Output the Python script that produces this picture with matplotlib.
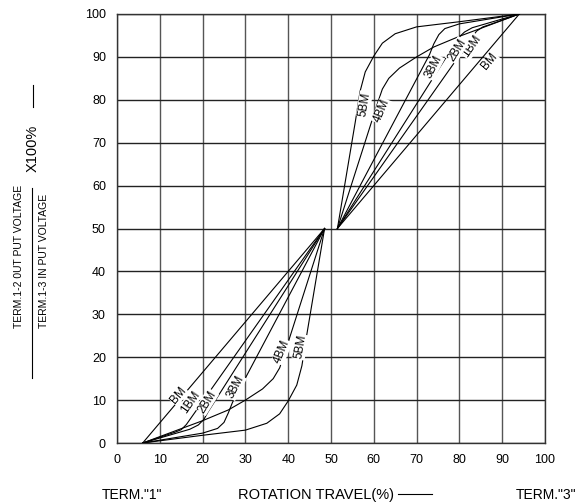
import matplotlib.pyplot as plt
from matplotlib.lines import Line2D

plt.rcParams['font.family'] = ['Liberation Sans', 'DejaVu Sans']

ticks = list(range(0, 101, 10))

# lower half curves (TERM."1" side)
bm_lo_x = [6, 48.5]
bm_lo_y = [0, 50]
bm1_lo_x = [6, 13.5, 15, 16.2, 48.5]
bm1_lo_y = [0, 2.5, 3.1, 4.3, 50]
bm2_lo_x = [6, 17, 19, 20.3, 21.3, 48.5]
bm2_lo_y = [0, 3.2, 4.2, 5.5, 7.3, 50]
bm3_lo_x = [6, 20, 23.5, 25, 26, 27, 48.5]
bm3_lo_y = [0, 2.3, 3.4, 4.8, 7, 9.5, 50]
bm4_lo_x = [6, 20, 26, 30, 34, 36.5, 38, 39.2, 48.5]
bm4_lo_y = [0, 5.2, 7.7, 10, 12.6, 15, 17.5, 21, 50]
bm5_lo_x = [6, 20, 30, 35, 38, 40, 42, 43.2, 44.3, 48.5]
bm5_lo_y = [0, 1.8, 3, 4.6, 6.8, 9.8, 13.5, 18, 25, 50]

# upper half curves (TERM."3" side)
bm_up_x = [51.5, 94]
bm_up_y = [50, 100]
bm1_up_x = [51.5, 84, 85.5, 87, 94]
bm1_up_y = [50, 96, 97, 97.5, 100]
bm2_up_x = [51.5, 78.7, 79.8, 81.2, 83, 94]
bm2_up_y = [50, 92.7, 94.5, 95.8, 96.8, 100]
bm3_up_x = [51.5, 73, 74, 75.2, 76.6, 80, 94]
bm3_up_y = [50, 90.5, 93, 95.2, 96.6, 97.7, 100]
bm4_up_x = [51.5, 60.8, 62, 63.5, 66, 70, 74, 80, 94]
bm4_up_y = [50, 79, 82.5, 85, 87.4, 90, 92.3, 94.8, 100]
bm5_up_x = [51.5, 55.7, 56.8, 58, 60, 62, 65, 70, 80, 94]
bm5_up_y = [50, 75, 82, 86.5, 90.2, 93.2, 95.4, 97, 98.2, 100]

curves = [
    (bm_lo_x, bm_lo_y), (bm1_lo_x, bm1_lo_y), (bm2_lo_x, bm2_lo_y),
    (bm3_lo_x, bm3_lo_y), (bm4_lo_x, bm4_lo_y), (bm5_lo_x, bm5_lo_y),
    (bm_up_x, bm_up_y), (bm1_up_x, bm1_up_y), (bm2_up_x, bm2_up_y),
    (bm3_up_x, bm3_up_y), (bm4_up_x, bm4_up_y), (bm5_up_x, bm5_up_y),
]

label_text = ["BM", "1BM", "2BM", "3BM", "4BM", "5BM"]
lo_label_x = [14.3, 17.1, 21.0, 27.6, 38.5, 42.8]
lo_label_y = [11.2, 9.6, 9.6, 13.1, 21.3, 22.4]
up_label_x = [87.1, 82.9, 79.4, 73.9, 61.8, 57.8]
up_label_y = [88.9, 92.4, 91.6, 87.7, 77.4, 79.0]
label_rot = [50, 55, 58, 62, 67, 80]

fig = plt.figure(figsize=(5.77, 5.04), dpi=100)
ax = fig.add_axes([117 / 577, 61 / 504, 428 / 577, 429 / 504])

for xs, ys in curves:
    ax.plot(xs, ys, color="black", lw=0.8, zorder=3)

for i, t in enumerate(label_text):
    for lx, ly in ((lo_label_x[i], lo_label_y[i]), (up_label_x[i], up_label_y[i])):
        ax.text(lx, ly, t, rotation=label_rot[i], rotation_mode="anchor",
                ha="center", va="center", fontsize=8.5, zorder=5,
                bbox=dict(boxstyle="square,pad=0.05", fc="white", ec="none"))

ax.set_xlim(0, 100)
ax.set_ylim(0, 100)
ax.set_xticks(ticks)
ax.set_yticks(ticks)
ax.xaxis.grid(True, color="#555555", lw=1.0)
ax.yaxis.grid(True, color="#222222", lw=1.0)
ax.set_axisbelow(True)
for s in ax.spines.values():
    s.set_color("#333333")
    s.set_linewidth(1.0)
ax.tick_params(length=0, labelsize=9, pad=8)

# y axis label: fraction x100%
fig.text(19 / 577, 1 - 256 / 504, "TERM.1-2 0UT PUT VOLTAGE", rotation=90,
         ha="center", va="center", fontsize=7.5)
fig.text(44 / 577, 1 - 261 / 504, "TERM.1-3 IN PUT VOLTAGE", rotation=90,
         ha="center", va="center", fontsize=7.5)
fig.add_artist(Line2D([32 / 577, 32 / 577], [1 - 188 / 504, 1 - 378 / 504],
                      color="black", lw=0.8))
fig.text(33 / 577, 1 - 148 / 504, "X100%", rotation=90,
         ha="center", va="center", fontsize=10.5)
fig.add_artist(Line2D([33 / 577, 33 / 577], [1 - 85 / 504, 1 - 107 / 504],
                      color="black", lw=0.8))

# x axis labels
fig.text(131.5 / 577, 1 - 495 / 504, 'TERM."1"', ha="center", va="center", fontsize=10)
fig.text(316 / 577, 1 - 495 / 504, "ROTATION TRAVEL(%)", ha="center", va="center", fontsize=10.5)
fig.add_artist(Line2D([398 / 577, 432 / 577], [1 - 494 / 504, 1 - 494 / 504],
                      color="black", lw=0.8))
fig.text(576 / 577, 1 - 495 / 504, 'TERM."3"', ha="right", va="center", fontsize=10)

fig.savefig("out.png", dpi=100)
